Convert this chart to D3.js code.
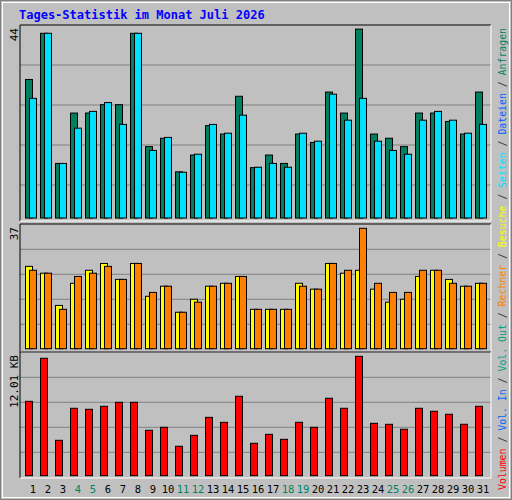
<!DOCTYPE html><html><head><meta charset="utf-8">
<script src="https://cdn.jsdelivr.net/npm/d3@7"></script>
<style>body{margin:0;background:#fff}svg{display:block}</style></head><body>
<script>
const days=d3.range(1,32);
const weekend=[4,5,11,12,18,19,25,26];
const hits=[33,44,13,25,25,27,27,44,17,19,11,15,22,20,29,12,15,13,20,18,30,25,45,20,19,17,25,25,23,20,30];
const files=[28.5,44,13,21.4,25.4,27.5,22.3,44,16.1,19.2,10.9,15.2,22.3,20.2,24.5,12.1,13,12.1,20.2,18.3,29.5,23.3,28.5,18.3,16.1,15.2,23.3,25.4,23.3,20.2,22.3];
const visits=[25.3,23.2,13.3,20.1,24.1,26.2,21.3,26.2,16.1,19.2,11.2,15.2,19.2,20.1,22.2,12.1,12.1,12.1,20.1,18.3,26.2,23.2,24.1,18.3,14.3,15.2,22.2,24.1,21.3,19.2,20.1];
const sites=[24.1,23.2,12.1,22.2,23.2,25.3,21.3,26.2,17.3,19.2,11.2,14.3,19.2,20.1,22.2,12.1,12.1,12.1,19.2,18.3,26.2,24.1,37,20.1,17.3,17.3,24.1,24.1,20.1,19.2,20.1];
const volume=[7.48,11.81,3.56,6.78,6.68,6.98,7.38,7.38,4.57,4.87,2.96,4.06,5.87,5.37,7.99,3.26,4.16,3.66,5.37,4.87,7.79,6.78,12.01,5.27,5.17,4.67,6.78,6.48,6.18,5.17,6.98];
const yLabels=["44","37","12.01 KB"];
const legend=[["Volumen","#ff0000"],["Vol. In","#0066ff"],["Vol. Out","#00a080"],["Rechner","#ff8000"],["Besuche","#ffff00"],["Seiten","#00e0ff"],["Dateien","#0060ff"],["Anfragen","#008060"]];

const W=512,H=500,font="'DejaVu Sans Mono',monospace";
const svg=d3.select("body").append("svg").attr("width",W).attr("height",H);
svg.append("rect").attr("width",W).attr("height",H).attr("fill","#c0c0c0");
svg.append("rect").attr("x",0.5).attr("y",0.5).attr("width",W-1).attr("height",H-1).attr("fill","none").attr("stroke","#808080");
svg.append("rect").attr("x",2.5).attr("y",2.5).attr("width",W-5).attr("height",H-5).attr("fill","none").attr("stroke","#fff");
svg.append("text").attr("x",19).attr("y",19).attr("font-family",font).attr("font-weight","bold").attr("font-size",12).attr("fill","#0000ff").text("Tages-Statistik im Monat Juli 2026");

const x=d3.scaleBand().domain(days).range([25,25+15*31]).padding(0);
const L=20,R=491;
const panels=[
 {top:25,bot:221,base:218,max:44,maxY:33.3,label:yLabels[0],grid:[65,105,145,185],series:[[hits,"#008060",0],[files,"#00e0ff",4]]},
 {top:224,bot:352,base:348.7,max:37,maxY:228.3,label:yLabels[1],grid:[249.3,274.3,299.3,324.3],series:[[visits,"#ffff00",0],[sites,"#ff8000",4]]},
 {top:352,bot:478,base:475.7,max:12.01,maxY:356.3,label:yLabels[2],grid:[377.3,402.3,427.3,452.3],series:[[volume,"#ff0000",0]]}
];
panels.forEach(p=>{
  const y=d3.scaleLinear().domain([0,p.max]).range([p.base,p.maxY]);
  const g=svg.append("g");
  p.grid.forEach(gy=>g.append("line").attr("x1",L).attr("x2",R).attr("y1",gy).attr("y2",gy).attr("stroke","#808080").attr("stroke-width",1));
  p.series.forEach(([data,col,off])=>{
    g.selectAll(null).data(data).enter().append("rect")
     .attr("x",(d,i)=>x(days[i])+off+0.5).attr("y",d=>y(d)).attr("width",7).attr("height",d=>p.base-y(d))
     .attr("fill",col).attr("stroke","#000").attr("stroke-width",1);
  });
  g.append("line").attr("x1",L).attr("x2",R).attr("y1",p.top).attr("y2",p.top).attr("stroke","#000");
  g.append("line").attr("x1",L).attr("x2",L).attr("y1",p.top).attr("y2",p.bot).attr("stroke","#000");
  g.append("line").attr("x1",R).attr("x2",R).attr("y1",p.top).attr("y2",p.bot).attr("stroke","#fff");
  g.append("line").attr("x1",L).attr("x2",R).attr("y1",p.bot).attr("y2",p.bot).attr("stroke","#fff");
  svg.append("text").attr("transform",`translate(18,${p.top+3}) rotate(-90)`).attr("text-anchor","end")
    .attr("font-family",font).attr("font-size",11).attr("fill","#000").text(p.label);
});
svg.selectAll(".dl").data(days).enter().append("text")
 .attr("x",d=>x(d)+8).attr("y",493).attr("text-anchor","middle").attr("font-family",font).attr("font-size",10.5)
 .attr("fill",d=>weekend.includes(d)?"#008060":"#000").text(d=>d);
const t=svg.append("text").attr("transform","translate(506,490) rotate(-90)").attr("font-family",font).attr("font-size",11)
 .attr("textLength",462).attr("lengthAdjust","spacingAndGlyphs");
legend.forEach(([s,c],i)=>{
  if(i>0)t.append("tspan").attr("fill","#404040").text(" / ");
  t.append("tspan").attr("fill",c).text(s);
});
</script></body></html>
